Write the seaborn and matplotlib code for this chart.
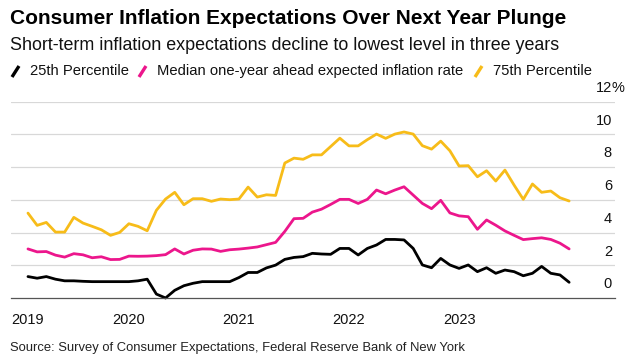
import matplotlib
matplotlib.use("Agg")
import matplotlib.pyplot as plt
import matplotlib.transforms as mtransforms
from matplotlib.lines import Line2D
import pandas as pd
import seaborn as sns

# monthly readings, Jan 2019 - Dec 2023
p25 = [1.31, 1.21, 1.31, 1.15, 1.05, 1.05, 1.02, 1.00, 1.00, 1.00, 1.00, 1.00,
       1.05, 1.15, 0.24, 0.00, 0.47, 0.75, 0.90, 1.00, 1.00, 1.00, 1.00, 1.25,
       1.56, 1.56, 1.84, 2.01, 2.36, 2.48, 2.53, 2.73, 2.69, 2.67, 3.03, 3.03,
       2.63, 3.03, 3.24, 3.58, 3.58, 3.55, 3.03, 2.02, 1.85, 2.42, 2.02, 1.81,
       2.02, 1.61, 1.85, 1.51, 1.71, 1.61, 1.36, 1.51, 1.93, 1.51, 1.41, 0.96]
median = [3.00, 2.82, 2.84, 2.62, 2.50, 2.71, 2.64, 2.46, 2.52, 2.35, 2.36, 2.56,
          2.55, 2.56, 2.59, 2.65, 3.00, 2.69, 2.92, 3.00, 2.99, 2.85, 2.95, 2.99,
          3.05, 3.12, 3.26, 3.40, 4.07, 4.85, 4.87, 5.25, 5.43, 5.72, 6.03, 6.03,
          5.78, 6.03, 6.60, 6.37, 6.60, 6.80, 6.29, 5.78, 5.46, 5.97, 5.20, 5.02,
          4.97, 4.20, 4.77, 4.45, 4.10, 3.83, 3.57, 3.63, 3.68, 3.58, 3.35, 3.00]
p75 = [5.19, 4.44, 4.62, 4.03, 4.03, 4.93, 4.58, 4.38, 4.17, 3.83, 4.01, 4.54,
       4.38, 4.11, 5.36, 6.05, 6.46, 5.70, 6.07, 6.07, 5.91, 6.05, 6.01, 6.05,
       6.78, 6.17, 6.31, 6.27, 8.25, 8.55, 8.48, 8.75, 8.75, 9.26, 9.77, 9.30,
       9.30, 9.68, 10.02, 9.76, 10.02, 10.15, 10.02, 9.31, 9.10, 9.59, 9.00, 8.07,
       8.09, 7.41, 7.78, 7.15, 7.82, 6.90, 6.03, 6.97, 6.46, 6.54, 6.13, 5.93]

series = ["25th Percentile", "Median one-year ahead expected inflation rate", "75th Percentile"]
colors = ["#000000", "#ec168c", "#f7bc19"]
year_labels = ["2019", "2020", "2021", "2022", "2023"]
y_ticks = [0, 2, 4, 6, 8, 10, 12]

month = list(range(len(median)))
df = pd.DataFrame({"month": month, series[0]: p25, series[1]: median, series[2]: p75})
long = df.melt(id_vars="month", var_name="series", value_name="value")

sns.set_style("white")
plt.rcParams["font.family"] = ["Liberation Sans", "DejaVu Sans"]

fig = plt.figure(figsize=(6.38, 3.63), dpi=100)
ax = fig.add_axes([11 / 638, 1 - 298 / 363, 604 / 638, (298 - 101.7) / 363])

sns.lineplot(data=long, x="month", y="value", hue="series", hue_order=series,
             palette=colors, linewidth=2.0, legend=False, ax=ax)
for ln in ax.lines:
    ln.set_clip_on(False)
    ln.set_solid_joinstyle("round")

ax.set_xlim(-1.85, 64.0)
ax.set_ylim(0, 12)
for s in ["top", "right", "left"]:
    ax.spines[s].set_visible(False)
ax.spines["bottom"].set_color("#555555")
ax.spines["bottom"].set_linewidth(0.9)

for v in y_ticks[1:]:
    ax.axhline(v, color="#d8d8d8", linewidth=0.9, zorder=0)
ax.set_yticks([])
ax.set_ylabel("")
ax.set_xlabel("")

# tick positions: first data point, then each December
ax.set_xticks([0, 11, 23, 35, 47])
ax.set_xticklabels(year_labels, fontsize=10.5, color="#111111")
ax.tick_params(axis="x", direction="out", length=5, width=0.9, color="#555555", pad=6)

lab_tr = mtransforms.offset_copy(ax.get_yaxis_transform(), fig=fig, x=0, y=7, units="points")
for v in y_ticks:
    ax.text(0.995, v, str(v), transform=lab_tr, ha="right", va="baseline",
            fontsize=10.5, color="#111111")
ax.text(0.995, 12, "%", transform=lab_tr, ha="left", va="baseline",
        fontsize=10.5, color="#111111")

fig.text(10 / 638, 1 - 18 / 363, "Consumer Inflation Expectations Over Next Year Plunge",
         fontsize=15, fontweight="bold", va="center", ha="left", color="#000000")
fig.text(10 / 638, 1 - 46 / 363, "Short-term inflation expectations decline to lowest level in three years",
         fontsize=12.9, va="center", ha="left", color="#111111")

# legend: slash marker + label
leg_x = [12, 139, 475]
for x0, name, c in zip(leg_x, series, colors):
    fig.add_artist(Line2D([x0 / 638, (x0 + 7) / 638], [1 - 77 / 363, 1 - 66 / 363],
                          transform=fig.transFigure, color=c, linewidth=2.4,
                          solid_capstyle="butt"))
    fig.text((x0 + 18) / 638, 1 - 71 / 363, name, fontsize=10.6, va="center",
             ha="left", color="#111111")

fig.text(10 / 638, 1 - 348 / 363,
         "Source: Survey of Consumer Expectations, Federal Reserve Bank of New York",
         fontsize=9.4, va="center", ha="left", color="#222222")

fig.savefig("out.png", dpi=100)
